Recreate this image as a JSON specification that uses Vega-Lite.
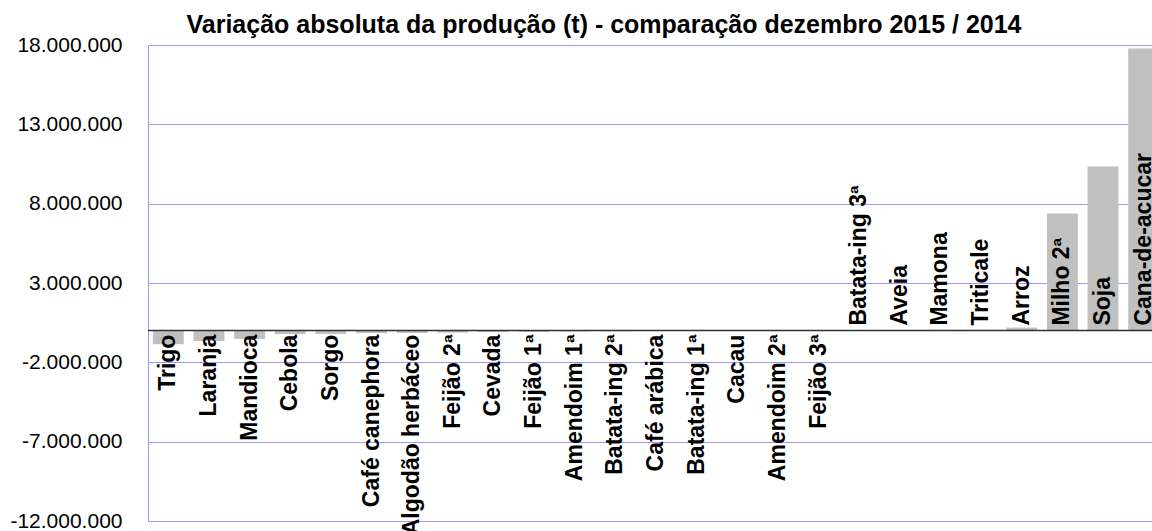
{
  "$schema": "https://vega.github.io/schema/vega-lite/v6.json",
  "width": 1004,
  "height": 476,
  "autosize": {"type": "none"},
  "padding": {"left": 148, "top": 45, "right": 0, "bottom": 10},
  "background": "white",
  "title": {
    "text": "Variação absoluta da produção (t) - comparação dezembro 2015 / 2014",
    "font": "Liberation Sans",
    "fontSize": 25,
    "fontWeight": "bold",
    "color": "black",
    "anchor": "middle",
    "frame": "group",
    "dx": -46,
    "dy": 8
  },
  "config": {
    "locale": {"number": {"decimal": ",", "thousands": ".", "grouping": [3], "currency": ["R$", ""], "minus": "-"}},
    "view": {"stroke": null}
  },
  "data": {
    "values": [
      {"cultura": "Trigo", "variacao": -860000},
      {"cultura": "Laranja", "variacao": -650000},
      {"cultura": "Mandioca", "variacao": -520000},
      {"cultura": "Cebola", "variacao": -220000},
      {"cultura": "Sorgo", "variacao": -210000},
      {"cultura": "Café canephora", "variacao": -160000},
      {"cultura": "Algodão herbáceo", "variacao": -150000},
      {"cultura": "Feijão 2ª", "variacao": -125000},
      {"cultura": "Cevada", "variacao": -100000},
      {"cultura": "Feijão 1ª", "variacao": -85000},
      {"cultura": "Amendoim 1ª", "variacao": -50000},
      {"cultura": "Batata-ing 2ª", "variacao": -40000},
      {"cultura": "Café arábica", "variacao": -30000},
      {"cultura": "Batata-ing 1ª", "variacao": -20000},
      {"cultura": "Cacau", "variacao": -15000},
      {"cultura": "Amendoim 2ª", "variacao": -8000},
      {"cultura": "Feijão 3ª", "variacao": -3000},
      {"cultura": "Batata-ing 3ª", "variacao": 2000},
      {"cultura": "Aveia", "variacao": 40000},
      {"cultura": "Mamona", "variacao": 45000},
      {"cultura": "Triticale", "variacao": 50000},
      {"cultura": "Arroz", "variacao": 190000},
      {"cultura": "Milho 2ª", "variacao": 7380000},
      {"cultura": "Soja", "variacao": 10340000},
      {"cultura": "Cana-de-acucar", "variacao": 17780000}
    ]
  },
  "layer": [
    {
      "mark": {"type": "bar", "color": "#C0C0C0"},
      "encoding": {
        "x": {"field": "cultura", "type": "nominal", "sort": null, "axis": null,
              "scale": {"range": [0, 1016], "paddingInner": 0.24, "paddingOuter": 0.12}},
        "y": {"field": "variacao", "type": "quantitative",
              "scale": {"domain": [-12000000, 18000000], "nice": false, "zero": false},
              "axis": {
                "values": [-12000000, -7000000, -2000000, 3000000, 8000000, 13000000, 18000000],
                "format": ",d",
                "title": null,
                "grid": true,
                "gridColor": "#9999FF",
                "gridWidth": 1,
                "gridOpacity": 1,
                "domainColor": "#9999FF",
                "domainWidth": 1,
                "ticks": false,
                "labelFont": "Liberation Sans",
                "labelFontSize": 21,
                "labelColor": "black",
                "labelPadding": 26,
                "labelFlush": false
              }}
      }
    },
    {
      "data": {"values": [{}]},
      "mark": {"type": "rule", "color": "#303030", "strokeWidth": 1.5},
      "encoding": {"y": {"datum": 0}}
    },
    {
      "transform": [{"filter": "datum.variacao < 0"}],
      "mark": {"type": "text", "angle": 270, "align": "right", "baseline": "middle", "dx": -4,
               "font": "Liberation Sans", "fontSize": 23, "fontWeight": "bold", "color": "black"},
      "encoding": {
        "x": {"field": "cultura", "type": "nominal", "sort": null, "band": 0.5},
        "y": {"datum": 0},
        "text": {"field": "cultura"}
      }
    },
    {
      "transform": [{"filter": "datum.variacao >= 0"}],
      "mark": {"type": "text", "angle": 270, "align": "left", "baseline": "middle", "dx": 5,
               "font": "Liberation Sans", "fontSize": 23, "fontWeight": "bold", "color": "black"},
      "encoding": {
        "x": {"field": "cultura", "type": "nominal", "sort": null, "band": 0.5},
        "y": {"datum": 0},
        "text": {"field": "cultura"}
      }
    }
  ]
}
